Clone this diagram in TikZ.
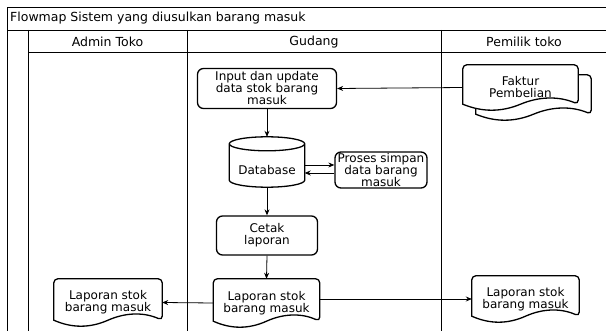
\documentclass[tikz,border=0pt]{standalone}
\usepackage{fontspec}
\setmainfont{DejaVu Sans}
\usetikzlibrary{arrows.meta,calc,backgrounds}

\newcommand\nodefont{\fontsize{12}{12}\selectfont}
\newcommand\headfont{\fontsize{12.5}{14}\selectfont}

\tikzset{
  frame/.style={line width=0.9pt},
  procbox/.style={draw, line width=1.3pt, rounded corners=6pt, align=center,
    inner sep=0pt, font=\nodefont},
  docbox/.style={align=center, inner sep=0pt, font=\nodefont},
  shapeline/.style={draw, line width=1.3pt, fill=white},
  arr/.style={line width=0.8pt, -{Stealth[length=6pt,width=5pt]}},
}

% Paper document outline around an (undrawn) node: rounded top, wavy bottom
\newcommand\docpath[1]{%
  \path[shapeline] let \p1=(#1.north west), \p2=(#1.south east),
      \n1={\x2-\x1}, \n2={\y2+6pt} in
    (\x1,\n2) [rounded corners=4pt] -- (\x1,\y1) -- (\x2,\y1) -- (\x2,\n2)
    [sharp corners]
    .. controls ({\x1+0.8333*\n1},{\n2+8pt}) and ({\x1+0.6667*\n1},{\n2+8pt})
    .. ({\x1+0.5*\n1},\n2)
    .. controls ({\x1+0.3333*\n1},{\n2-8pt}) and ({\x1+0.1667*\n1},{\n2-8pt})
    .. (\x1,\n2) -- cycle;}

% Database cylinder around an (undrawn) node
\newcommand\cylpath[1]{%
  \path[shapeline] let \p1=(#1.north west), \p2=(#1.south east),
      \n1={0.5*(\x2-\x1)} in
    (\x1,\y1-7pt) -- (\x1,\y2+7pt)
    arc[start angle=180, end angle=360, x radius=\n1, y radius=7pt]
    -- (\x2,\y1-7pt)
    arc[start angle=0, end angle=180, x radius=\n1, y radius=7pt] -- cycle
    (\x1,\y1-7pt) arc[start angle=180, end angle=360, x radius=\n1, y radius=7pt];}

\begin{document}
\begin{tikzpicture}[x=1pt,y=1pt]
\useasboundingbox (0,0) rectangle (606,-331);

% swimlane frame
\draw[frame] (7,-340) -- (7,-7) -- (612,-7);
\draw[frame] (7,-30) -- (612,-30);
\draw[frame] (28,-30) -- (28,-340);
\draw[frame] (28,-52) -- (612,-52);
\draw[frame] (187,-30) -- (187,-340);
\draw[frame] (441,-30) -- (441,-340);

\node[anchor=west, font=\headfont, inner sep=0pt] (title) at (10,-18)
  {Flowmap Sistem yang diusulkan barang masuk};
\node[font=\headfont] (laneA) at (107.5,-42) {Admin Toko};
\node[font=\headfont] (laneG) at (314,-42) {Gudang};
\node[font=\headfont] (laneP) at (524,-42) {Pemilik toko};

% process boxes
\node[procbox, minimum width=139pt, minimum height=40pt] (inp) at (267,-88.5)
  {Input dan update\\data stok barang\\masuk};
\node[procbox, minimum width=92pt, minimum height=36pt] (proses) at (381,-170)
  {Proses simpan\\data barang\\masuk};
\node[procbox, minimum width=101pt, minimum height=39pt] (cetak) at (267,-235.5)
  {Cetak\\laporan};

% database
\node[minimum width=75pt, minimum height=50pt, inner sep=0pt] (db) at (267,-162) {};
\node[font=\nodefont] (dbLabel) at ([yshift=-8pt]db.center) {Database};

% documents
\node[docbox, minimum width=115pt, minimum height=45pt] (fakB) at (533.5,-97.5) {};
\node[docbox, minimum width=115pt, minimum height=45pt] (faktur) at (520.5,-87.5)
  {Faktur\\Pembelian};
\node[docbox, minimum width=106pt, minimum height=48pt] (lapG) at (266.5,-303)
  {Laporan stok\\barang masuk};
\node[docbox, minimum width=108pt, minimum height=47pt] (lapA) at (108,-302.5)
  {Laporan stok\\barang masuk};
\node[docbox, minimum width=107pt, minimum height=46pt] (lapP) at (525.5,-299)
  {Laporan stok\\barang masuk};

\begin{pgfonlayer}{background}
  \cylpath{db}
  \docpath{fakB}
  \docpath{faktur}
  \docpath{lapG}
  \docpath{lapA}
  \docpath{lapP}
\end{pgfonlayer}

% flow
\draw[arr] (faktur.west) -- (inp.east);
\draw[arr] (inp.south) -- (db.north);
\draw[arr] ([yshift=-3pt]db.east) -- ([yshift=-3pt]db.east -| proses.west);
\draw[arr] ([yshift=-11pt]db.east -| proses.west) -- ([yshift=-11pt]db.east);
\draw[arr] (db.south) -- (cetak.north);
\draw[arr] (cetak.south) -- (lapG.north);
\draw[arr] (lapG.west) -- (lapA.east);
\draw[arr] (lapG.east |- lapP.west) -- (lapP.west);
\end{tikzpicture}
\end{document}
